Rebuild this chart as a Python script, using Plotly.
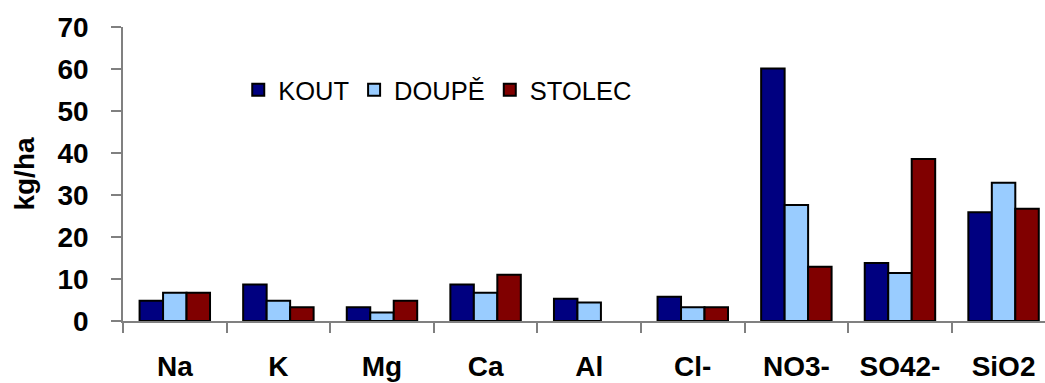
import plotly.graph_objects as go

categories = ["Na", "K", "Mg", "Ca", "Al", "Cl-", "NO3-", "SO42-", "SiO2"]
kout = [4.8, 8.7, 3.3, 8.7, 5.3, 5.8, 60.1, 13.8, 25.9]
doupe = [6.7, 4.8, 2.0, 6.7, 4.4, 3.3, 27.6, 11.4, 32.9]
stolec = [6.7, 3.3, 4.8, 11.0, None, 3.3, 12.9, 38.6, 26.7]

series_names = ["KOUT", "DOUPĚ", "STOLEC"]
series_colors = ["#000080", "#99CCFF", "#800000"]
y_ticks = [0, 10, 20, 30, 40, 50, 60, 70]

FONT = "Arial, Liberation Sans, sans-serif"

fig = go.Figure()
for name, vals, col in zip(series_names, [kout, doupe, stolec], series_colors):
    fig.add_trace(go.Bar(
        x=categories, y=vals, name=name,
        marker=dict(color=col, line=dict(color="black", width=2)),
    ))

fig.update_layout(
    width=1045, height=383,
    margin=dict(l=123, r=0, t=27, b=62),
    paper_bgcolor="white", plot_bgcolor="white",
    barmode="group", bargap=0.32, bargroupgap=0,
    font=dict(family=FONT, color="black"),
    showlegend=True,
    legend=dict(
        orientation="h", x=0.125, y=0.785, xanchor="left", yanchor="middle",
        font=dict(family=FONT, size=25.5, color="black"),
        bgcolor="rgba(0,0,0,0)", itemwidth=30, tracegroupgap=0,
    ),
)
fig.update_xaxes(
    type="category", range=[-0.5, 8.4],
    showline=True, linecolor="#808080", linewidth=1.5,
    ticks="outside", tickson="boundaries", ticklen=10, tickcolor="#808080", tickwidth=1.5,
    tickfont=dict(family=FONT, size=28, color="black", weight="bold"),
    ticklabelstandoff=20,
    showgrid=False, zeroline=False,
)
fig.update_yaxes(
    range=[0, 70], tickvals=y_ticks,
    showline=True, linecolor="#808080", linewidth=1.5,
    ticks="outside", ticklen=10, tickcolor="#808080", tickwidth=1.5,
    tickfont=dict(family=FONT, size=28, color="black", weight="bold"),
    ticklabelstandoff=17,
    showgrid=False, zeroline=False,
    title=dict(text="kg/ha", font=dict(family=FONT, size=28, color="black", weight="bold"), standoff=15),
)

fig.write_html("out.html")
